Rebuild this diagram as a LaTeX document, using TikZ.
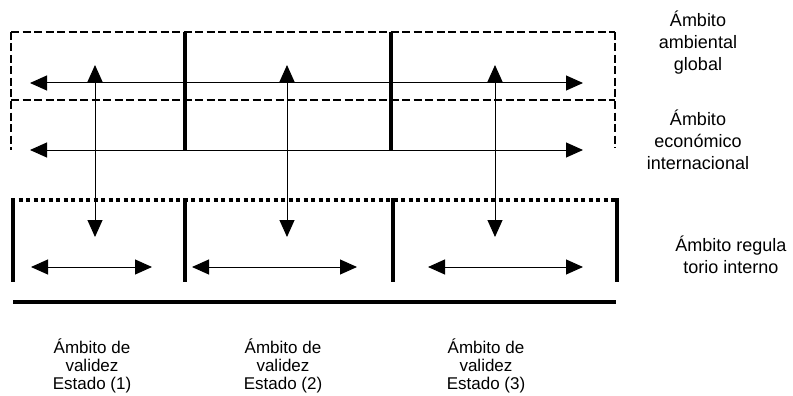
\documentclass[tikz,border=0pt]{standalone}
\usepackage{fontspec}
\setmainfont{Liberation Sans}
\usetikzlibrary{arrows.meta}
\begin{document}
\begin{tikzpicture}[x=1pt,y=-1pt,
  dashedline/.style={line width=1.1pt,dash pattern=on 8pt off 3.5pt},
  thickbar/.style={line width=3.5pt},
  dotline/.style={line width=4pt,dash pattern=on 4pt off 3.5pt},
  arr/.style={line width=1pt,{Triangle[length=17pt,width=15pt]}-{Triangle[length=17pt,width=15pt]}},
  lbl/.style={align=center,font=\fontsize{18}{22}\selectfont,inner sep=0pt},
  blbl/.style={align=center,font=\fontsize{17}{18}\selectfont,inner sep=0pt}]
\useasboundingbox (0,0) rectangle (793,396);
% upper dashed frame
\coordinate (tl) at (11,32); \coordinate (tr) at (615,32);
\coordinate (ml) at (11,100); \coordinate (mr) at (615,100);
\coordinate (bl) at (11,150); \coordinate (br) at (615,148);
\draw[dashedline] (tl) -- (tr);
\draw[dashedline] (ml) -- (mr);
\draw[dashedline] (tl) -- (bl);
\draw[dashedline] (tr) -- (br);
% thick dividers upper
\coordinate (u1t) at (185,32); \coordinate (u1b) at (185,151);
\coordinate (u2t) at (391,32); \coordinate (u2b) at (391,151);
\draw[thickbar] (u1t) -- (u1b);
\draw[thickbar] (u2t) -- (u2b);
% dotted line
\coordinate (dl) at (11,200); \coordinate (dr) at (618,200);
\draw[dotline] (dl) -- (dr);
% lower bars
\foreach \x/\n in {13/a,185/b,393/c,617/d}{
  \coordinate (l\n t) at (\x,198); \coordinate (l\n b) at (\x,282);
  \draw[thickbar] (l\n t) -- (l\n b);
}
% bottom line
\coordinate (bot1) at (13,302); \coordinate (bot2) at (616,302);
\draw[thickbar] (bot1) -- (bot2);
% horizontal arrows
\coordinate (r1l) at (30,83); \coordinate (r1r) at (583,83);
\coordinate (r2l) at (30,150); \coordinate (r2r) at (583,150);
\draw[arr] (r1l) -- (r1r);
\draw[arr] (r2l) -- (r2r);
% vertical arrows
\foreach \x/\n in {95/a,287/b,495/c}{
  \coordinate (v\n t) at (\x,65); \coordinate (v\n b) at (\x,237);
  \draw[arr] (v\n t) -- (v\n b);
}
% lower arrows
\coordinate (h1l) at (31,267); \coordinate (h1r) at (152,267);
\coordinate (h2l) at (192,267); \coordinate (h2r) at (357,267);
\coordinate (h3l) at (428,267); \coordinate (h3r) at (583,267);
\draw[arr] (h1l) -- (h1r);
\draw[arr] (h2l) -- (h2r);
\draw[arr] (h3l) -- (h3r);
% labels
\node[lbl] (amb) at (698,43) {Ámbito\\ambiental\\global};
\node[lbl] (eco) at (698,140) {Ámbito\\económico\\internacional};
\node[lbl] (reg) at (731,255) {Ámbito regula\\torio interno};
\node[blbl] (e1) at (92,366) {Ámbito de\\validez\\Estado (1)};
\node[blbl] (e2) at (283,366) {Ámbito de\\validez\\Estado (2)};
\node[blbl] (e3) at (486,366) {Ámbito de\\validez\\Estado (3)};
\end{tikzpicture}
\end{document}
